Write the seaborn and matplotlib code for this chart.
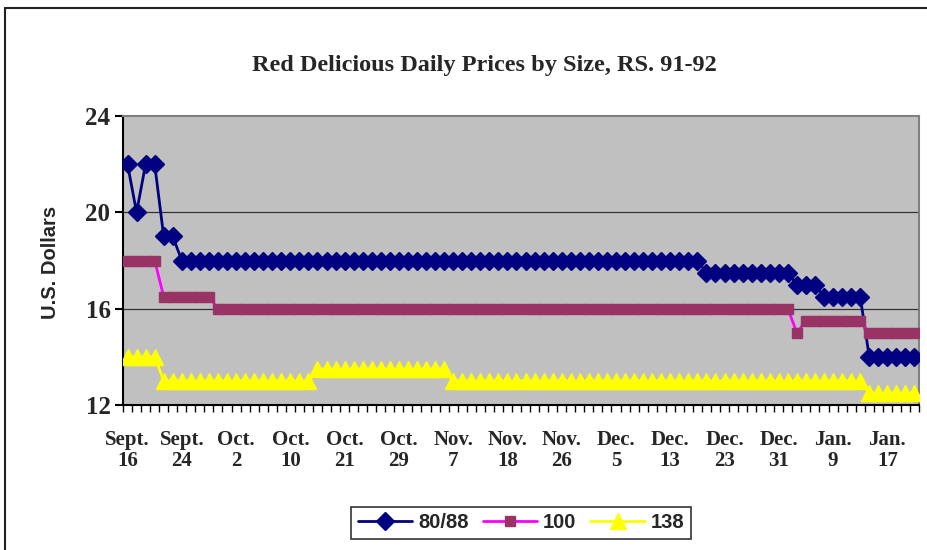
import numpy as np
import pandas as pd
import matplotlib
matplotlib.use("Agg")
import matplotlib.pyplot as plt
import seaborn as sns
from matplotlib.lines import Line2D

# ---------------- data ----------------
date_labels = ["Sept.\n16", "Sept.\n24", "Oct.\n2", "Oct.\n10", "Oct.\n21",
               "Oct.\n29", "Nov.\n7", "Nov.\n18", "Nov.\n26", "Dec.\n5",
               "Dec.\n13", "Dec.\n23", "Dec.\n31", "Jan.\n9", "Jan.\n17"]

price_80_88 = [22, 20, 22, 22, 19, 19, 18, 18, 18, 18, 18, 18, 18, 18, 18, 18, 18, 18, 18, 18, 18, 18,
               18, 18, 18, 18, 18, 18, 18, 18, 18, 18, 18, 18, 18, 18, 18, 18, 18, 18, 18, 18, 18, 18,
               18, 18, 18, 18, 18, 18, 18, 18, 18, 18, 18, 18, 18, 18, 18, 18, 18, 18, 18, 18, 17.5, 17.5,
               17.5, 17.5, 17.5, 17.5, 17.5, 17.5, 17.5, 17.5, 17, 17, 17, 16.5, 16.5, 16.5, 16.5, 16.5, 14, 14, 14, 14, 14, 14]

price_100 = [18, 18, 18, 18, 16.5, 16.5, 16.5, 16.5, 16.5, 16.5, 16, 16, 16, 16, 16, 16, 16, 16, 16, 16, 16, 16,
             16, 16, 16, 16, 16, 16, 16, 16, 16, 16, 16, 16, 16, 16, 16, 16, 16, 16, 16, 16, 16, 16,
             16, 16, 16, 16, 16, 16, 16, 16, 16, 16, 16, 16, 16, 16, 16, 16, 16, 16, 16, 16, 16, 16,
             16, 16, 16, 16, 16, 16, 16, 16, 15, 15.5, 15.5, 15.5, 15.5, 15.5, 15.5, 15.5, 15, 15, 15, 15, 15, 15]

price_138 = [14, 14, 14, 14, 13, 13, 13, 13, 13, 13, 13, 13, 13, 13, 13, 13, 13, 13, 13, 13, 13, 13.5,
             13.5, 13.5, 13.5, 13.5, 13.5, 13.5, 13.5, 13.5, 13.5, 13.5, 13.5, 13.5, 13.5, 13.5, 13, 13, 13, 13, 13, 13, 13, 13,
             13, 13, 13, 13, 13, 13, 13, 13, 13, 13, 13, 13, 13, 13, 13, 13, 13, 13, 13, 13, 13, 13,
             13, 13, 13, 13, 13, 13, 13, 13, 13, 13, 13, 13, 13, 13, 13, 13, 12.5, 12.5, 12.5, 12.5, 12.5, 12.5]

series_names = ["80/88", "100", "138"]

day_index = np.arange(len(price_80_88))
label_step = 6

# ---------------- style ----------------
sns.set_style("white")
plt.rcParams["font.family"] = ["Liberation Serif", "DejaVu Serif"]

fig = plt.figure(figsize=(9.27, 5.5), dpi=100)
ax = fig.add_axes([123 / 927, 1 - 405 / 550, (919 - 123) / 927, (405 - 116) / 550])
ax.set_facecolor("#C0C0C0")

navy = "#000080"
magenta = "#FF00FF"
maroon = "#993366"
yellow = "#FFFF00"

sns.lineplot(x=day_index, y=price_80_88, ax=ax, color=navy, linewidth=2,
             marker="D", markersize=9, markerfacecolor=navy, markeredgecolor=navy,
             markeredgewidth=1, legend=False, zorder=3)
sns.lineplot(x=day_index, y=price_100, ax=ax, color=magenta, linewidth=2,
             marker="s", markersize=7, markerfacecolor=maroon, markeredgecolor=maroon,
             markeredgewidth=1, legend=False, zorder=3)
sns.lineplot(x=day_index, y=price_138, ax=ax, color=yellow, linewidth=2,
             marker="^", markersize=11, markerfacecolor=yellow, markeredgecolor=yellow,
             markeredgewidth=1, legend=False, zorder=3)

ax.set_xlim(-0.5, len(day_index) - 0.5)
ax.set_ylim(12, 24)

# y axis
ax.set_yticks([12, 16, 20, 24])
ax.set_yticklabels(["12", "16", "20", "24"], fontsize=18, fontweight="bold")
ax.tick_params(axis="y", which="major", direction="out", length=6, width=1.5,
               color="black", pad=3, left=True)
for yv in [16, 20]:
    ax.axhline(yv, color="#333333", linewidth=0.9, zorder=1)

# x axis: labels every 6 days, tick marks at every category boundary
ax.set_xticks(day_index[::label_step])
ax.set_xticklabels(date_labels, fontsize=15, fontweight="bold", linespacing=1.05)
ax.set_xticks(np.arange(-0.5, len(day_index), 1), minor=True)
ax.tick_params(axis="x", which="major", length=0, pad=18, bottom=True)
ax.tick_params(axis="x", which="minor", direction="out", length=5, width=1,
               color="black", bottom=True)
ax.set_xlabel("")
ax.set_ylabel("")

for side in ["top", "right"]:
    ax.spines[side].set_color("#808080")
    ax.spines[side].set_linewidth(1.5)
for side in ["left", "bottom"]:
    ax.spines[side].set_color("black")
    ax.spines[side].set_linewidth(1.5)

# title and axis label
fig.text(484 / 927, 1 - 66 / 550, "Red Delicious Daily Prices by Size, RS. 91-92",
         ha="center", va="center", fontsize=17.5, fontweight="bold",
         family=["Liberation Serif", "DejaVu Serif"])
fig.text(50 / 927, 1 - 262 / 550, "U.S. Dollars", rotation=90, ha="center", va="center",
         fontsize=14.5, fontweight="bold", family=["Liberation Sans", "DejaVu Sans"])

# outer chart frame (top and left edges visible)
fig.add_artist(Line2D([5 / 927, 5 / 927], [0, 1 - 8 / 550], transform=fig.transFigure,
                      color="#222222", linewidth=1.5))
fig.add_artist(Line2D([5 / 927, 1], [1 - 8 / 550, 1 - 8 / 550], transform=fig.transFigure,
                      color="#222222", linewidth=1.5))

# legend
handles = [
    Line2D([], [], color=navy, linewidth=2, marker="D", markersize=9,
           markerfacecolor=navy, markeredgecolor=navy),
    Line2D([], [], color=magenta, linewidth=2, marker="s", markersize=7,
           markerfacecolor=maroon, markeredgecolor=maroon),
    Line2D([], [], color=yellow, linewidth=2, marker="^", markersize=11,
           markerfacecolor=yellow, markeredgecolor=yellow),
]
leg = fig.legend(handles, series_names, loc="center", bbox_to_anchor=(521 / 927, 1 - 523 / 550),
                 ncol=3, frameon=True, fancybox=False, edgecolor="black",
                 handlelength=2.7, handletextpad=0.3, columnspacing=0.7,
                 borderpad=0.3, prop={"family": ["Liberation Sans", "DejaVu Sans"],
                                      "weight": "bold", "size": 14.5})
leg.get_frame().set_linewidth(1.2)

fig.savefig("out.png", dpi=100)
